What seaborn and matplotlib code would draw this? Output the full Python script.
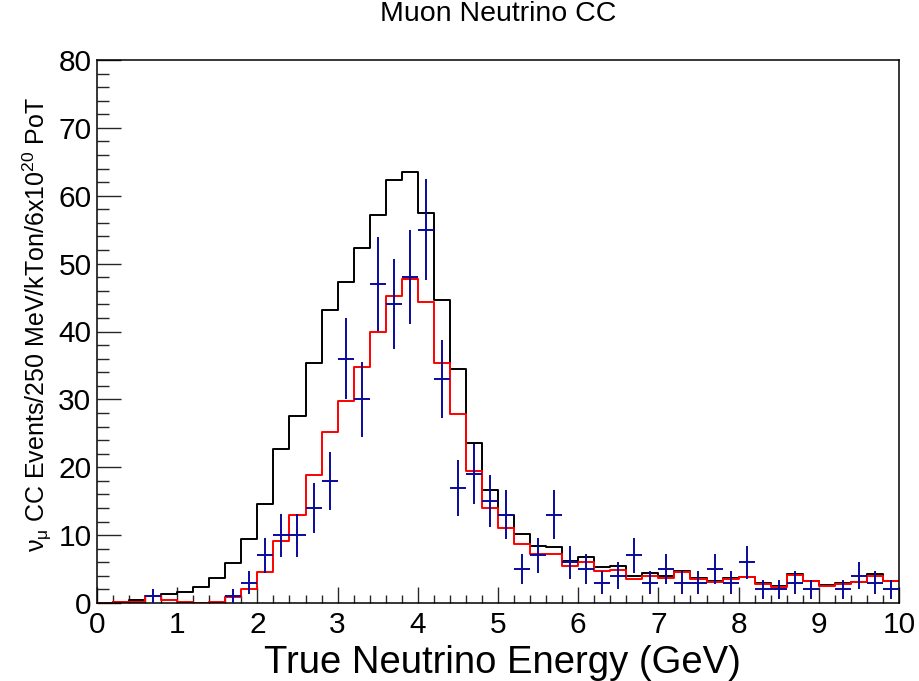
import numpy as np
import pandas as pd
import matplotlib
matplotlib.use("Agg")
import matplotlib.pyplot as plt
from matplotlib.ticker import MultipleLocator
import seaborn as sns

# Energy binning (GeV)
energy_low, energy_high, bin_width = 0.0, 10.0, 0.2

# Unoscillated nu_mu CC prediction per bin
nominal_mc = [0.05, 0.2, 0.44, 1.0, 1.37, 1.65, 2.3, 3.75, 5.95, 9.4,
              14.55, 22.7, 27.5, 35.4, 43.2, 47.3, 52.3, 57.2, 62.3, 63.5,
              57.4, 44.6, 34.5, 23.6, 16.7, 12.96, 10.2, 8.35, 8.25, 6.2,
              6.8, 5.3, 5.45, 4.03, 4.37, 4.0, 4.76, 3.63, 3.24, 3.63,
              3.88, 3.0, 2.5, 4.32, 3.29, 2.6, 2.9, 3.14, 4.22, 3.29]

# Oscillated prediction per bin
oscillated_mc = [0.03, 0.2, 0.2, 1.03, 0.5, 0.08, 0.05, 0.12, 0.95, 2.1,
                 4.6, 9.1, 13.0, 18.85, 25.2, 29.75, 34.8, 40.0, 45.3, 47.75,
                 44.4, 35.4, 27.9, 19.45, 14.0, 11.0, 8.74, 7.22, 7.25, 5.5,
                 6.04, 4.76, 4.91, 3.58, 4.0, 3.75, 4.52, 3.49, 3.14, 3.49,
                 3.78, 2.85, 2.36, 4.08, 3.19, 2.55, 2.8, 3.1, 4.03, 3.19]

# Simulated event counts per bin
observed_counts = [0, 0, 0, 1, 0, 0, 0, 0, 1, 3,
                   7, 10, 10, 14, 18, 36, 30, 47, 44, 48,
                   55, 33, 17, 19, 15, 13, 5, 7, 13, 6,
                   5, 3, 4, 7, 3, 5, 3, 3, 5, 3,
                   6, 2, 2, 3, 2, 0, 2, 4, 3, 2]

title_text = "Muon Neutrino CC"
x_title = "True Neutrino Energy (GeV)"
y_title = r"$\nu_{\mu}$ CC Events/250 MeV/kTon/6x10$^{20}$ PoT"

sns.set_theme(style="ticks")
plt.rcParams["font.family"] = ["Liberation Sans", "DejaVu Sans"]
plt.rcParams["mathtext.fontset"] = "custom"
plt.rcParams["mathtext.rm"] = "Liberation Sans"
plt.rcParams["mathtext.it"] = "Liberation Sans"
plt.rcParams["mathtext.bf"] = "Liberation Sans:bold"

n_bins = len(nominal_mc)
edges = np.linspace(energy_low, energy_high, n_bins + 1)
centers = 0.5 * (edges[:-1] + edges[1:])

df = pd.DataFrame({
    "energy": centers,
    "nominal": nominal_mc,
    "oscillated": oscillated_mc,
    "observed": observed_counts,
})

fig = plt.figure(figsize=(9.2, 6.81), dpi=100)
ax = fig.add_axes([97 / 920, 1 - 603 / 681, 802 / 920, 543 / 681])

sns.histplot(data=df, x="energy", weights="nominal", binwidth=bin_width,
             binrange=(energy_low, energy_high),
             element="step", fill=False, color="black", linewidth=1.4, ax=ax)
sns.histplot(data=df, x="energy", weights="oscillated", binwidth=bin_width,
             binrange=(energy_low, energy_high),
             element="step", fill=False, color="#ff0000", linewidth=1.4, ax=ax)

pts = df[df["observed"] > 0]
ax.errorbar(pts["energy"], pts["observed"], yerr=np.sqrt(pts["observed"]),
            xerr=bin_width / 2, fmt="none", ecolor="#0a0a9e", elinewidth=1.4,
            capsize=0, zorder=3)

ax.set_xlim(energy_low, energy_high)
ax.set_ylim(0, 80)
ax.set_xlabel("")
ax.set_ylabel("")

for side in ["top", "right", "left", "bottom"]:
    ax.spines[side].set_visible(True)
    ax.spines[side].set_linewidth(1.1)
    ax.spines[side].set_color("black")

ax.xaxis.set_major_locator(MultipleLocator(1))
ax.xaxis.set_minor_locator(MultipleLocator(0.2))
ax.yaxis.set_major_locator(MultipleLocator(10))
ax.yaxis.set_minor_locator(MultipleLocator(2))
ax.tick_params(axis="x", which="major", direction="in", length=11.5, width=1.0,
               pad=6, labelsize=21.5, labelcolor="black", top=False)
ax.tick_params(axis="x", which="minor", direction="in", length=5.8, width=1.0, top=False)
ax.tick_params(axis="y", which="major", direction="in", length=17.3, width=1.0,
               pad=4, labelsize=21.5, labelcolor="black", right=False)
ax.tick_params(axis="y", which="minor", direction="in", length=8.6, width=1.0, right=False)

fig.text(498 / 920, 1 - 14 / 681, title_text, ha="center", va="center",
         fontsize=20.5, color="black")
fig.text(502 / 920, 1 - 645 / 681, x_title, ha="center", va="top",
         fontsize=27.5, color="black")
fig.text(37 / 920, 1 - 325 / 681, y_title, ha="center", va="center",
         rotation=90, fontsize=18, color="black")

fig.savefig("out.png", dpi=100, facecolor="white")
